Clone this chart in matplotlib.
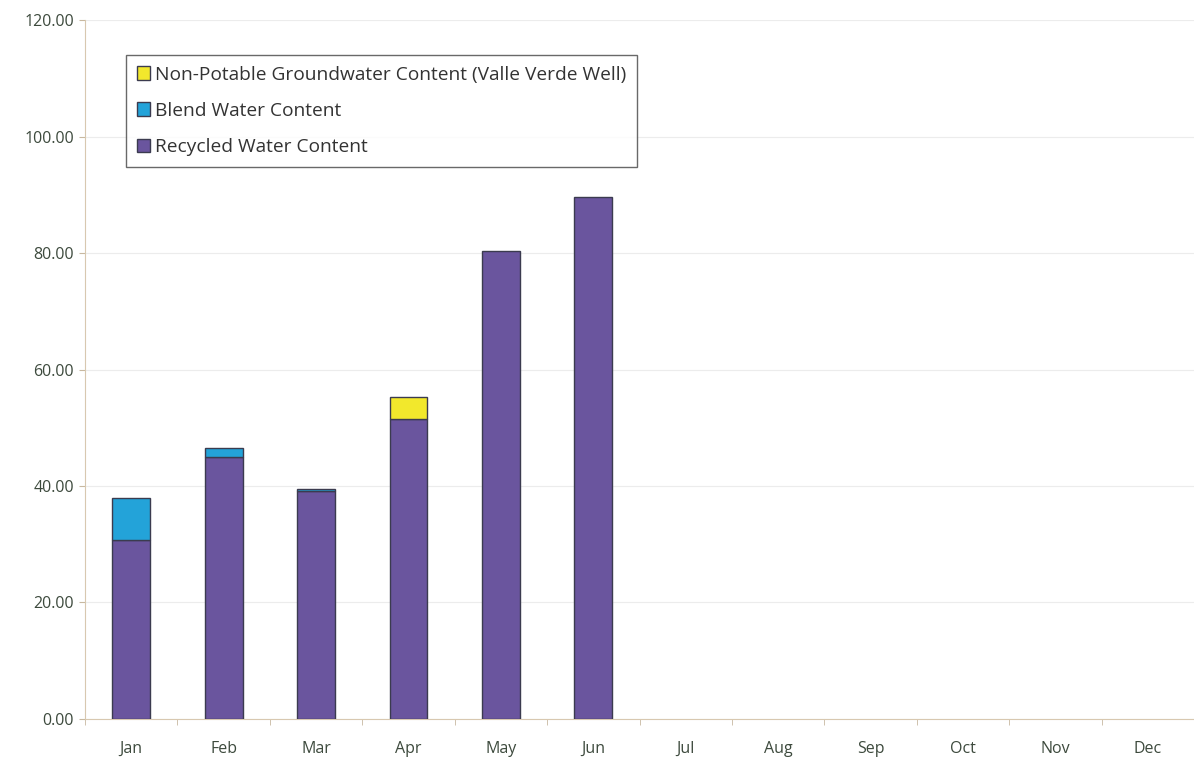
import matplotlib
matplotlib.use("Agg")
import matplotlib.pyplot as plt
import numpy as np

months = ["Jan", "Feb", "Mar", "Apr", "May", "Jun", "Jul", "Aug", "Sep", "Oct", "Nov", "Dec"]
recycled = [30.7, 45.0, 39.2, 51.5, 80.3, 89.6, 0, 0, 0, 0, 0, 0]
blend = [7.2, 1.5, 0.3, 0.0, 0.0, 0.0, 0, 0, 0, 0, 0, 0]
nonpotable = [0.0, 0.0, 0.0, 3.8, 0.0, 0.0, 0, 0, 0, 0, 0, 0]
yticks = [0, 20, 40, 60, 80, 100, 120]

plt.rcParams['font.family'] = ['Open Sans', 'DejaVu Sans']

fig = plt.figure(figsize=(11.94, 7.58), dpi=100)
ax = fig.add_axes([0.0712, 0.0515, 0.9288, 0.922])

x = np.arange(len(months))
w = 0.41
edge = "#3b3b4f"
c_rec = "#6a559e"
c_blend = "#23a3d9"
c_np = "#f2e82c"

rec = np.array(recycled)
bl = np.array(blend)
npw = np.array(nonpotable)
mask = rec > 0
ax.bar(x[mask], rec[mask], w, color=c_rec, edgecolor=edge, linewidth=1.0, label="Recycled Water Content", zorder=3)
mb = bl > 0
ax.bar(x[mb], bl[mb], w, bottom=rec[mb], color=c_blend, edgecolor=edge, linewidth=1.0, label="Blend Water Content", zorder=3)
mn = npw > 0
ax.bar(x[mn], npw[mn], w, bottom=(rec + bl)[mn], color=c_np, edgecolor=edge, linewidth=1.0,
       label="Non-Potable Groundwater Content (Valle Verde Well)", zorder=3)

ax.set_xlim(-0.5, len(months) - 0.5)
ax.set_ylim(0, 120)
ax.set_yticks(yticks)
ax.set_yticklabels([f"{v:.2f}" for v in yticks], fontsize=11.5, color="#3d4a3d")
ax.set_xticks(x)
ax.set_xticklabels(months, fontsize=11.5, color="#3d4a3d")
ax.set_xticks(np.arange(-0.5, len(months)), minor=True)
ax.tick_params(axis='x', which='major', length=0, pad=16)
ax.tick_params(axis='x', which='minor', length=4, color="#c8b8a0", direction='out')
ax.tick_params(axis='y', length=4, color="#c8b8a0", pad=4)

ax.yaxis.grid(True, color="#ececec", linewidth=0.8, zorder=0)
for s in ["top", "right"]:
    ax.spines[s].set_visible(False)
ax.spines["left"].set_color("#d8c8b0")
ax.spines["bottom"].set_color("#d8c8b0")

handles, labels = ax.get_legend_handles_labels()
leg = ax.legend(handles[::-1], labels[::-1], loc="upper left", bbox_to_anchor=(0.037, 0.95),
                fontsize=13.8, frameon=True, fancybox=False, edgecolor="#444444",
                handlelength=0.7, handleheight=0.7, handletextpad=0.25, labelspacing=0.95,
                borderpad=0.55, borderaxespad=0)
leg.get_frame().set_linewidth(1.0)
for t in leg.get_texts():
    t.set_color("#333333")

fig.savefig("out.png", dpi=100)
